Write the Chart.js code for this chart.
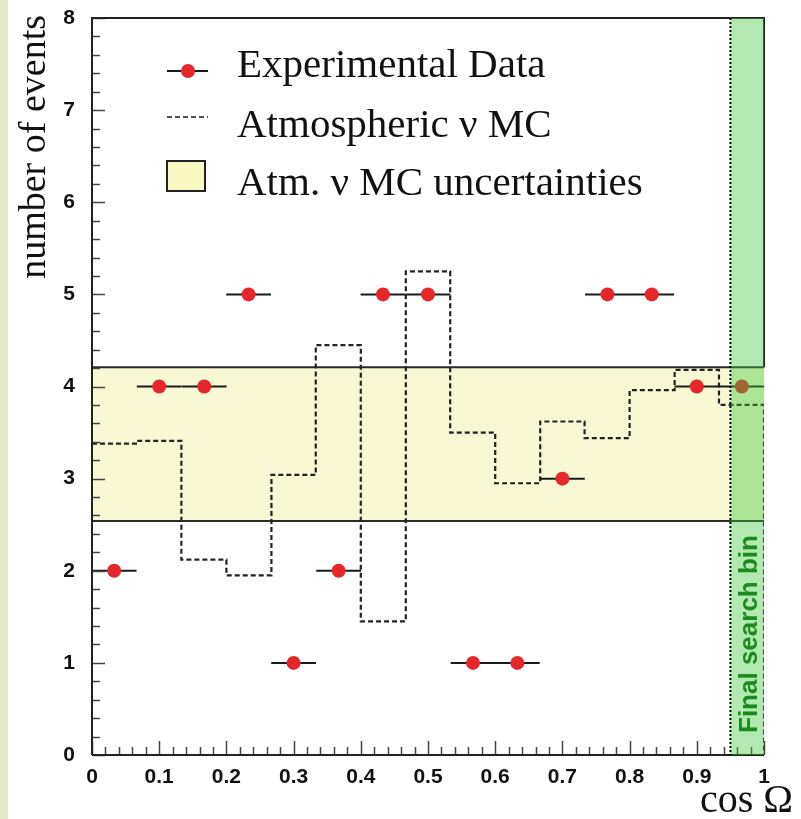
<!DOCTYPE html>
<html>
<head>
<meta charset="utf-8">
<script src="https://cdn.jsdelivr.net/npm/chart.js@4"></script>
<style>
  html, body { margin: 0; padding: 0; background: #fff; }
  #wrap { position: relative; width: 801px; height: 819px; }
  #strip { position: absolute; left: 0; top: 0; width: 8px; height: 819px; background: #e0eacb; }
  #chart { position: absolute; left: 0; top: 0; }
</style>
</head>
<body>
<div id="wrap"><div id="strip"></div><canvas id="chart" width="801" height="819"></canvas></div>
<script>
// data
const binCenters = [0.033, 0.1, 0.167, 0.233, 0.3, 0.367, 0.433, 0.5, 0.567, 0.633, 0.7, 0.767, 0.833, 0.9, 0.967];
const dataCounts = [2, 4, 4, 5, 1, 2, 5, 5, 1, 1, 3, 5, 5, 4, 4];
const binHalfWidth = 0.0333;
const binEdges = [0, 0.067, 0.133, 0.2, 0.267, 0.333, 0.4, 0.467, 0.533, 0.6, 0.667, 0.733, 0.8, 0.867, 0.933, 1];
const mcExpected = [3.38, 3.41, 2.12, 1.95, 3.04, 4.45, 1.45, 5.25, 3.50, 2.95, 3.62, 3.44, 3.96, 4.18, 3.80];
const mcBandLow = 2.54;
const mcBandHigh = 4.21;
const searchBinStart = 0.95;
const legendLabels = ['Experimental Data', 'Atmospheric \u03BD MC', 'Atm. \u03BD MC uncertainties'];

document.addEventListener("DOMContentLoaded", function () {
  const ctx = document.getElementById("chart").getContext("2d");

  const points = binCenters.map((x, i) => ({ x: x, y: dataCounts[i] }));
  // histogram steps: value held from each left edge, then drop to 0 at the right edge
  const mcSteps = mcExpected.map((v, i) => ({ x: binEdges[i], y: v }));
  mcSteps.push({ x: binEdges[binEdges.length - 1], y: mcExpected[mcExpected.length - 1] });
  mcSteps.push({ x: binEdges[binEdges.length - 1], y: 0 });

  const serif = "'Liberation Serif', 'Times New Roman', serif";
  const sans = "'Liberation Sans', Arial, sans-serif";

  const extras = {
    id: "extras",
    beforeDatasetDraw(chart, args) {
      // horizontal error bars, under the red dots
      if (args.index !== 3) return;
      const c = chart.ctx, xs = chart.scales.x, ys = chart.scales.y;
      c.save();
      c.strokeStyle = "#1a1a1a";
      c.lineWidth = 2;
      binCenters.forEach((x, i) => {
        const y = ys.getPixelForValue(dataCounts[i]);
        c.beginPath();
        c.moveTo(xs.getPixelForValue(x - binHalfWidth), y);
        c.lineTo(xs.getPixelForValue(x + binHalfWidth), y);
        c.stroke();
      });
      c.restore();
    },
    afterDatasetsDraw(chart) {
      const c = chart.ctx, xs = chart.scales.x, ys = chart.scales.y;
      const a = chart.chartArea;
      c.save();
      // inward tick marks
      c.strokeStyle = "#444";
      c.lineWidth = 1.5;
      for (let k = 0; k <= 40; k++) {
        const v = k * 0.2;
        const y = Math.round(ys.getPixelForValue(v)) + 0.5;
        const len = (k % 5 === 0) ? 13 : 8;
        c.beginPath(); c.moveTo(a.left, y); c.lineTo(a.left + len, y); c.stroke();
      }
      for (let k = 0; k <= 50; k++) {
        const v = k * 0.02;
        const x = Math.round(xs.getPixelForValue(v)) + 0.5;
        const len = (k % 5 === 0) ? 14 : 8;
        c.beginPath(); c.moveTo(x, a.bottom); c.lineTo(x, a.bottom - len); c.stroke();
      }
      // frame
      c.strokeStyle = "#222";
      c.lineWidth = 2;
      c.beginPath();
      c.moveTo(a.left, a.bottom); c.lineTo(a.left, a.top); c.lineTo(a.right, a.top);
      c.lineTo(a.right, ys.getPixelForValue(mcBandHigh));
      c.moveTo(a.left, a.bottom); c.lineTo(a.right, a.bottom);
      c.stroke();
      // final search bin overlay
      const gx = xs.getPixelForValue(searchBinStart);
      c.fillStyle = "rgba(60, 200, 60, 0.4)";
      c.fillRect(gx, a.top, a.right - gx, a.bottom - a.top);
      c.strokeStyle = "#000";
      c.lineWidth = 2;
      c.setLineDash([2, 2]);
      c.beginPath(); c.moveTo(gx, a.top); c.lineTo(gx, a.bottom); c.stroke();
      c.setLineDash([]);
      c.translate(757, 733);
      c.rotate(-Math.PI / 2);
      c.fillStyle = "#1c8a1c";
      c.font = "bold 26px " + sans;
      c.textAlign = "left";
      c.textBaseline = "alphabetic";
      c.fillText("Final search bin", 0, 0);
      c.restore();
    },
    afterDraw(chart) {
      const c = chart.ctx;
      c.save();
      // legend
      c.strokeStyle = "#1a1a1a";
      c.lineWidth = 2;
      c.beginPath(); c.moveTo(167, 71); c.lineTo(208, 71); c.stroke();
      c.fillStyle = "#e5262b";
      c.beginPath(); c.arc(188, 71, 7, 0, Math.PI * 2); c.fill();
      c.strokeStyle = "#555";
      c.setLineDash([5, 3]);
      c.beginPath(); c.moveTo(167, 117); c.lineTo(208, 117); c.stroke();
      c.setLineDash([]);
      c.fillStyle = "#f8f8c0";
      c.fillRect(167, 161, 38, 30);
      c.strokeStyle = "#222";
      c.strokeRect(167, 161, 38, 30);
      c.fillStyle = "#111";
      c.font = "41px " + serif;
      c.textAlign = "left";
      c.textBaseline = "alphabetic";
      c.fillText(legendLabels[0], 237, 77);
      c.fillText(legendLabels[1], 237, 137);
      c.fillText(legendLabels[2], 237, 195);
      // axis titles
      c.font = "40px " + serif;
      c.textAlign = "right";
      c.fillText("cos \u03A9", 793, 812);
      c.translate(45, 15);
      c.rotate(-Math.PI / 2);
      c.font = "38px " + serif;
      c.textAlign = "right";
      c.fillText("number of events", 0, 0);
      c.restore();
    }
  };

  new Chart(ctx, {
    type: "scatter",
    data: {
      datasets: [
        {
          data: [{ x: 0, y: mcBandHigh }, { x: 1, y: mcBandHigh }],
          type: "line", borderColor: "#2a2a2a", borderWidth: 2, pointRadius: 0, fill: false, order: 4
        },
        {
          data: [{ x: 0, y: mcBandLow }, { x: 1, y: mcBandLow }],
          type: "line", borderColor: "#2a2a2a", borderWidth: 2, pointRadius: 0,
          fill: "-1", backgroundColor: "#f8f8d2", order: 5
        },
        {
          data: mcSteps,
          type: "line", stepped: true, borderColor: "#222", borderWidth: 2.2,
          borderDash: [5, 3], pointRadius: 0, fill: false, order: 2
        },
        {
          data: points,
          pointRadius: 7, pointBackgroundColor: "#e5262b", pointBorderWidth: 0, order: 1
        }
      ]
    },
    options: {
      responsive: false,
      animation: false,
      layout: { padding: { left: 0, top: 18, right: 37, bottom: 0 } },
      plugins: { legend: { display: false }, tooltip: { enabled: false } },
      scales: {
        x: {
          type: "linear", min: 0, max: 1,
          grid: { display: false, drawTicks: false },
          border: { display: false },
          afterFit: s => { s.height = 64; s.paddingLeft = 0; s.paddingRight = 0; },
          ticks: {
            stepSize: 0.1, autoSkip: false, maxRotation: 0, padding: 10, color: "#111",
            font: { family: "'Liberation Sans', Arial, sans-serif", weight: "bold", size: 21 },
            callback: v => String(+v.toFixed(1))
          }
        },
        y: {
          type: "linear", min: 0, max: 8,
          grid: { display: false, drawTicks: false },
          border: { display: false },
          afterFit: s => { s.width = 92; s.paddingTop = 0; s.paddingBottom = 0; },
          ticks: {
            stepSize: 1, padding: 17, color: "#111",
            font: { family: "'Liberation Sans', Arial, sans-serif", weight: "bold", size: 21 }
          }
        }
      }
    },
    plugins: [extras]
  });
});
</script>
</body>
</html>
